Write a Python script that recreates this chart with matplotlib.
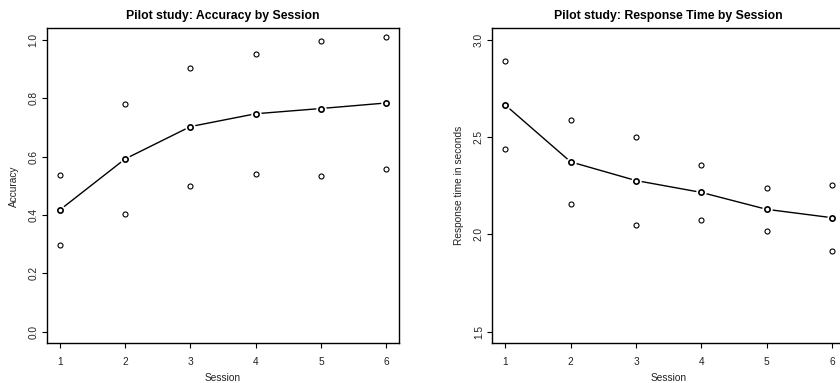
import matplotlib
matplotlib.use("Agg")
import matplotlib.pyplot as plt
import numpy as np

plt.rcParams['font.family'] = ['Liberation Sans', 'DejaVu Sans']

sessions = [1, 2, 3, 4, 5, 6]

# accuracy: mean and upper / lower bounds per session
acc_mean = [0.417, 0.592, 0.703, 0.747, 0.765, 0.784]
acc_upper = [0.538, 0.780, 0.905, 0.953, 0.995, 1.011]
acc_lower = [0.296, 0.404, 0.501, 0.539, 0.535, 0.557]

# response time in seconds
rt_mean = [2.665, 2.373, 2.277, 2.216, 2.129, 2.086]
rt_upper = [2.890, 2.588, 2.503, 2.359, 2.237, 2.256]
rt_lower = [2.440, 2.158, 2.046, 2.074, 2.019, 1.916]


def r_panel(ax, mean, upper, lower, ylim, yticks, title, ylabel):
    # bounds as open circles
    for ys in (upper, lower):
        ax.plot(sessions, ys, 'o', ms=3.6, mfc='none', mec='black', mew=0.8)
    # type="b": line with gaps round the points
    ax.plot(sessions, mean, '-', color='black', lw=1.0, zorder=2)
    ax.plot(sessions, mean, 'o', ms=6.5, mfc='white', mec='white', zorder=3)
    ax.plot(sessions, mean, 'o', ms=3.8, mfc='none', mec='black', mew=1.2, zorder=4)

    lo, hi = ylim
    pad = 0.04 * (hi - lo)
    ax.set_ylim(lo - pad, hi + pad)
    ax.set_xlim(0.8, 6.2)
    ax.set_xticks(sessions)
    ax.set_yticks(yticks)
    ax.set_yticklabels(['%.1f' % v for v in yticks])
    for lab in ax.get_yticklabels():
        lab.set_rotation(90)
        lab.set_va('center')
    ax.tick_params(direction='out', length=3.6, width=0.8, labelsize=7.3,
                   color='black', labelcolor='#222222')
    ax.tick_params(axis='x', pad=6.5)
    ax.tick_params(axis='y', pad=2.5)
    for sp in ax.spines.values():
        sp.set_linewidth(1.0)
    ax.set_title(title, fontsize=8.8, fontweight='bold', pad=6.5)
    ax.set_xlabel('Session', fontsize=7.3, labelpad=4, color='#222222')
    ax.set_ylabel(ylabel, fontsize=7.3, labelpad=7, color='#222222')


fig = plt.figure(figsize=(8.4, 3.83), dpi=100)
ax1 = fig.add_axes([0.0556, 0.1037, 0.4198, 0.8224])
ax2 = fig.add_axes([0.5861, 0.1037, 0.4198, 0.8224])

r_panel(ax1, acc_mean, acc_upper, acc_lower, (0.0, 1.0),
        [0.0, 0.2, 0.4, 0.6, 0.8, 1.0],
        'Pilot study: Accuracy by Session', 'Accuracy')
r_panel(ax2, rt_mean, rt_upper, rt_lower, (1.5, 3.0),
        [1.5, 2.0, 2.5, 3.0],
        'Pilot study: Response Time by Session', 'Response time in seconds')

fig.savefig('out.png', dpi=100)
